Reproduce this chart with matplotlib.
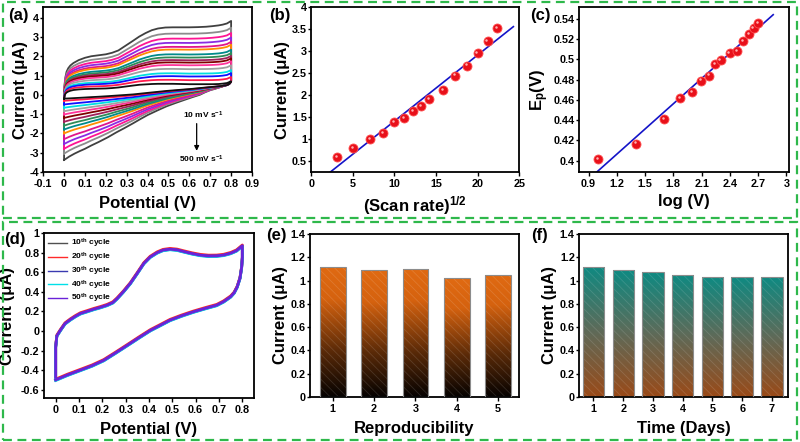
import numpy as np
import matplotlib.pyplot as plt
from matplotlib.patches import Rectangle
from matplotlib.colors import LinearSegmentedColormap
from matplotlib.ticker import FormatStrFormatter, MultipleLocator
from matplotlib.transforms import offset_copy

plt.rcParams['font.family'] = ['Liberation Sans', 'DejaVu Sans']
plt.rcParams['font.weight'] = 'bold'
plt.rcParams['axes.labelweight'] = 'bold'
plt.rcParams['axes.unicode_minus'] = False
plt.rcParams['mathtext.fontset'] = 'custom'
plt.rcParams['mathtext.rm'] = 'Liberation Sans:bold'
plt.rcParams['mathtext.bf'] = 'Liberation Sans:bold'
plt.rcParams['mathtext.default'] = 'bf'
plt.rcParams['hatch.linewidth'] = 0.6

# ---- (a) CV at different scan rates (10 -> 500 mV/s) ----
# forward (anodic) branch, 0 -> 0.8 V: innermost and outermost curves
a_E_up = [0.0, 0.002, 0.006, 0.012, 0.02, 0.03, 0.045, 0.07, 0.1, 0.13, 0.165, 0.2, 0.23, 0.26, 0.295,
          0.33, 0.36, 0.39, 0.42, 0.45, 0.485, 0.52, 0.56, 0.6, 0.64, 0.68, 0.71, 0.74, 0.76, 0.78, 0.8]
a_inner_up = [-0.2, -0.05, 0.05, 0.12, 0.17, 0.21, 0.25, 0.28, 0.3, 0.31, 0.32, 0.33, 0.35, 0.38, 0.43,
              0.48, 0.52, 0.54, 0.56, 0.57, 0.57, 0.57, 0.56, 0.55, 0.55, 0.55, 0.55, 0.56, 0.58, 0.61, 0.7]
a_outer_up = [-0.2, 0.5, 0.9, 1.2, 1.38, 1.52, 1.65, 1.8, 1.92, 2.0, 2.05, 2.1, 2.18, 2.3, 2.55,
              2.8, 3.02, 3.2, 3.35, 3.44, 3.49, 3.5, 3.5, 3.5, 3.51, 3.53, 3.56, 3.6, 3.64, 3.7, 3.83]
# reverse (cathodic) branch, 0.8 -> 0 V
a_E_dn = [0.8, 0.795, 0.79, 0.78, 0.77, 0.755, 0.74, 0.72, 0.7, 0.675, 0.65, 0.615, 0.58, 0.535, 0.49,
          0.445, 0.4, 0.365, 0.33, 0.29, 0.25, 0.21, 0.165, 0.13, 0.1, 0.075, 0.05, 0.025, 0.0]
a_inner_dn = [0.68, 0.6, 0.55, 0.5, 0.48, 0.46, 0.44, 0.42, 0.4, 0.375, 0.35, 0.31, 0.28, 0.24, 0.2,
              0.15, 0.1, 0.06, 0.02, -0.01, -0.04, -0.07, -0.1, -0.12, -0.14, -0.155, -0.17, -0.185, -0.2]
a_outer_dn = [0.75, 0.66, 0.6, 0.54, 0.48, 0.42, 0.37, 0.3, 0.24, 0.13, 0.0, -0.12, -0.25, -0.42, -0.6,
              -0.82, -1.05, -1.26, -1.48, -1.72, -1.95, -2.2, -2.45, -2.63, -2.8, -2.92, -3.05, -3.2, -3.38]
# current of each curve at 0.6 V (anodic) and at 0 V (cathodic), inner -> outer
a_anodic = [0.55, 0.76, 0.95, 1.1, 1.33, 1.53, 1.67, 1.79, 1.93, 2.09, 2.34, 2.48, 2.69, 2.91, 3.17, 3.5]
a_cathodic = [-0.2, -0.31, -0.5, -0.67, -0.85, -1.02, -1.2, -1.4, -1.6, -1.8, -2.0, -2.3, -2.55, -2.8, -3.05, -3.38]
a_colors = ['#111111', '#ff1a4d', '#1010ff', '#00e0e0', '#a0a0a0', '#ff3399', '#800000', '#a0205a',
            '#2e8b57', '#008b8b', '#ff8c00', '#e0158c', '#8a2be2', '#ff1493', '#8c8c8c', '#404040']

# ---- (b) peak current vs sqrt(scan rate) ----
b_x = [3.16, 5.0, 7.07, 8.66, 10.0, 11.18, 12.25, 13.23, 14.14, 15.81, 17.32, 18.71, 20.0, 21.21, 22.36]
b_y = [0.58, 0.80, 1.00, 1.14, 1.39, 1.48, 1.63, 1.74, 1.91, 2.12, 2.44, 2.67, 2.95, 3.23, 3.53]

# ---- (c) Ep vs log(scan rate) ----
c_x = [1.0, 1.40, 1.70, 1.875, 2.0, 2.097, 2.176, 2.243, 2.301, 2.398, 2.477, 2.544, 2.602, 2.653, 2.699]
c_y = [0.402, 0.417, 0.441, 0.462, 0.468, 0.479, 0.484, 0.495, 0.499, 0.506, 0.508, 0.518, 0.525, 0.531, 0.536]

# ---- (d) cycling stability CV ----
d_E_up = [0.0, 0.0, 0.005, 0.02, 0.04, 0.063, 0.085, 0.106, 0.135, 0.163, 0.19, 0.22, 0.245, 0.263, 0.29,
          0.32, 0.35, 0.378, 0.405, 0.435, 0.46, 0.49, 0.52, 0.55, 0.585, 0.62, 0.655, 0.69, 0.72, 0.75, 0.775, 0.8]
d_I_up = [-0.47, -0.165, -0.05, 0.006, 0.075, 0.116, 0.15, 0.178, 0.2, 0.222, 0.24, 0.263, 0.29, 0.33, 0.40,
          0.486, 0.59, 0.69, 0.755, 0.80, 0.825, 0.835, 0.828, 0.81, 0.79, 0.774, 0.766, 0.767, 0.775, 0.794, 0.82, 0.87]
d_E_dn = [0.8, 0.797, 0.79, 0.778, 0.765, 0.75, 0.72, 0.69, 0.64, 0.59, 0.54, 0.49, 0.45, 0.406, 0.356,
          0.306, 0.256, 0.206, 0.156, 0.106, 0.05, 0.0]
d_I_dn = [0.75, 0.65, 0.54, 0.45, 0.39, 0.35, 0.30, 0.263, 0.23, 0.195, 0.155, 0.11, 0.06, 0.006, -0.07,
          -0.148, -0.225, -0.30, -0.355, -0.40, -0.45, -0.5]
d_cycles = ['10$^{th}$ cycle', '20$^{th}$ cycle', '30$^{th}$ cycle', '40$^{th}$ cycle', '50$^{th}$ cycle']
d_shift = [0.0, 0.008, -0.003, -0.006, 0.0]
d_colors = ['#505050', '#ff2a2a', '#3a3ab0', '#00e0e8', '#6a22d8']

# ---- (e) reproducibility ----
e_x = [1, 2, 3, 4, 5]
e_y = [1.12, 1.09, 1.10, 1.02, 1.05]

# ---- (f) stability over days ----
f_x = [1, 2, 3, 4, 5, 6, 7]
f_y = [1.12, 1.09, 1.07, 1.05, 1.03, 1.03, 1.03]

LABEL_FS = 12
fig = plt.figure(figsize=(8, 4.42), dpi=100)


def style(ax):
    for s in ax.spines.values():
        s.set_linewidth(1.3)
    ax.tick_params(direction='out', width=1, labelsize=7.8, top=False, right=False)
    ax.tick_params(axis='x', length=3, pad=2)
    ax.tick_params(axis='y', length=2, pad=1.2)
    ax.xaxis.set_major_formatter(FormatStrFormatter('%g'))
    ax.yaxis.set_major_formatter(FormatStrFormatter('%g'))


# (a)
ax = fig.add_axes([0.054, 0.611, 0.261, 0.373])
inner_up = np.array(a_inner_up); outer_up = np.array(a_outer_up)
inner_dn = np.array(a_inner_dn); outer_dn = np.array(a_outer_dn)
i06 = a_E_up.index(0.6)
for k in range(len(a_anodic) - 1, -1, -1):
    fu = (a_anodic[k] - inner_up[i06]) / (outer_up[i06] - inner_up[i06])
    fd = (a_cathodic[k] - inner_dn[-1]) / (outer_dn[-1] - inner_dn[-1])
    up = inner_up + fu * (outer_up - inner_up)
    dn = inner_dn + fd * (outer_dn - inner_dn)
    E = np.concatenate([[0.0], a_E_up, a_E_dn])
    I = np.concatenate([[dn[-1]], up, dn])
    ax.plot(E, I, color=a_colors[k], lw=1.3)
ax.set_xlim(-0.1, 0.9)
ax.set_ylim(-4, 4.55)
ax.xaxis.set_major_locator(MultipleLocator(0.1))
ax.yaxis.set_major_locator(MultipleLocator(1))
style(ax)
ax.set_xlabel('Potential (V)', fontsize=LABEL_FS, labelpad=5)
ax.set_ylabel('Current (\u03bcA)', fontsize=LABEL_FS, labelpad=1)
ax.annotate('', xy=(0.635, -3.05), xytext=(0.635, -1.35),
            arrowprops=dict(arrowstyle='-|>', color='black', lw=0.9, mutation_scale=7))
ax.text(0.665, -1.05, '10 mV s$^{-1}$', fontsize=6, ha='center', va='center')
ax.text(0.66, -3.33, '500 mV s$^{-1}$', fontsize=6, ha='center', va='center')
fig.text(0.01, 0.964, '(a)', fontsize=12, fontweight='bold', va='center')

# (b)
ax = fig.add_axes([0.389, 0.611, 0.26, 0.373])
pb = np.polyfit(b_x, b_y, 1)
bx_line = np.array([0.0, 24.3])
ax.plot(bx_line, np.polyval(pb, bx_line), color='#1414c8', lw=1.2, zorder=2)
ax.plot(b_x, b_y, 'o', color='#e8101a', ms=6.5, mec='#ff5050', mew=0.6, zorder=3)
ax.plot(b_x, b_y, 'o', color='#ffb0b0', ms=1.8, mew=0, zorder=4,
        transform=offset_copy(ax.transData, fig=fig, x=-1.2, y=1.2, units='dots'))
ax.set_xlim(0, 25)
ax.set_ylim(0.25, 4)
ax.xaxis.set_major_locator(MultipleLocator(5))
ax.yaxis.set_major_locator(MultipleLocator(0.5))
style(ax)
ax.set_xlabel('(Scan rate)$^{1/2}$', fontsize=LABEL_FS, labelpad=4)
ax.set_ylabel('Current (\u03bcA)', fontsize=LABEL_FS, labelpad=1)
fig.text(0.336, 0.964, '(b)', fontsize=12, fontweight='bold', va='center')

# (c)
ax = fig.add_axes([0.724, 0.611, 0.2625, 0.373])
pc = np.polyfit(c_x, c_y, 1)
cx_line = np.array([0.9, 2.86])
ax.plot(cx_line, np.polyval(pc, cx_line), color='#1414c8', lw=1.2, zorder=2)
ax.plot(c_x, c_y, 'o', color='#e8101a', ms=6.5, mec='#ff5050', mew=0.6, zorder=3)
ax.plot(c_x, c_y, 'o', color='#ffb0b0', ms=1.8, mew=0, zorder=4,
        transform=offset_copy(ax.transData, fig=fig, x=-1.2, y=1.2, units='dots'))
ax.set_xlim(0.8, 3.03)
ax.set_ylim(0.389, 0.5515)
ax.set_xticks(np.round(np.arange(0.9, 3.01, 0.3), 2))
ax.set_yticks(np.round(np.arange(0.40, 0.541, 0.02), 2))
style(ax)
ax.set_xlabel('log (V)', fontsize=LABEL_FS, labelpad=4)
ax.set_ylabel('E$_p$(V)', fontsize=LABEL_FS, labelpad=2)
fig.text(0.663, 0.964, '(c)', fontsize=12, fontweight='bold', va='center')

# (d)
ax = fig.add_axes([0.055, 0.0995, 0.2625, 0.3733])
for lab, sh, col in zip(d_cycles, d_shift, d_colors):
    E = np.concatenate([d_E_up, d_E_dn])
    I = np.concatenate([d_I_up, d_I_dn]) + sh
    ax.plot(E, I, color=col, lw=2.0, label=lab)
ax.set_xlim(-0.05, 0.85)
ax.set_ylim(-0.685, 1.0)
ax.set_xticks(np.round(np.arange(0, 0.81, 0.1), 2))
ax.set_yticks(np.round(np.arange(-0.6, 1.01, 0.2), 2))
style(ax)
leg = ax.legend(loc='upper left', frameon=False, fontsize=6, handlelength=2.2, labelspacing=0.05,
                borderaxespad=0.1, handletextpad=0.5)
for ln in leg.get_lines():
    ln.set_linewidth(1.0)
ax.set_xlabel('Potential (V)', fontsize=LABEL_FS, labelpad=5)
ax.set_ylabel('Current (\u03bcA)', fontsize=LABEL_FS, labelpad=4)
fig.text(0.005, 0.459, '(d)', fontsize=12, fontweight='bold', va='center')


def gradient_bars(ax, x, h, width, cmap):
    bars = ax.bar(x, h, width, color='none', edgecolor='#8c8c8c', lw=0.8, zorder=3)
    grad = np.linspace(1, 0, 256).reshape(-1, 1)
    for b in bars:
        x0, y0, w, hh = b.get_x(), b.get_y(), b.get_width(), b.get_height()
        im = ax.imshow(grad, extent=[x0, x0 + w, y0, y0 + hh], aspect='auto', cmap=cmap,
                       vmin=0, vmax=1, origin='upper', zorder=2)
        im.set_clip_path(b)
    ax.bar(x, h, width, color='none', edgecolor=(1, 1, 1, 0.13), lw=0, hatch='\\\\\\\\', zorder=2.5)


# (e)
ax = fig.add_axes([0.3875, 0.1018, 0.261, 0.3688])
cmap_e = LinearSegmentedColormap.from_list('e', [(0, '#050201'), (0.35, '#5a2a08'), (0.75, '#d5620f'), (1, '#e06a12')])
gradient_bars(ax, e_x, e_y, 0.62, cmap_e)
ax.set_xlim(0.45, 5.5)
ax.set_ylim(0, 1.4)
ax.set_xticks(e_x)
ax.yaxis.set_major_locator(MultipleLocator(0.2))
style(ax)
ax.set_xlabel('Reproducibility', fontsize=LABEL_FS, labelpad=5)
ax.set_ylabel('Current (\u03bcA)', fontsize=LABEL_FS, labelpad=2)
fig.text(0.333, 0.468, '(e)', fontsize=12, fontweight='bold', va='center')

# (f)
ax = fig.add_axes([0.724, 0.1018, 0.261, 0.3688])
cmap_f = LinearSegmentedColormap.from_list('f', [(0, '#9a4a18'), (0.5, '#5f6a58'), (1, '#0f8a82')])
gradient_bars(ax, f_x, f_y, 0.72, cmap_f)
ax.set_xlim(0.52, 7.54)
ax.set_ylim(0, 1.4)
ax.set_xticks(f_x)
ax.yaxis.set_major_locator(MultipleLocator(0.2))
style(ax)
ax.set_xlabel('Time (Days)', fontsize=LABEL_FS, labelpad=5)
ax.set_ylabel('Current (\u03bcA)', fontsize=LABEL_FS, labelpad=2)
fig.text(0.664, 0.468, '(f)', fontsize=12, fontweight='bold', va='center')

# green dashed frames around the two rows
for y0, hgt in [(0.5068, 0.4887), (0.0045, 0.4932)]:
    fig.add_artist(Rectangle((0.00375, y0), 0.9925, hgt, transform=fig.transFigure, fill=False,
                             edgecolor='#2eb84b', lw=1.6, linestyle=(0, (4, 2.5))))

fig.savefig('out.png', dpi=100)
